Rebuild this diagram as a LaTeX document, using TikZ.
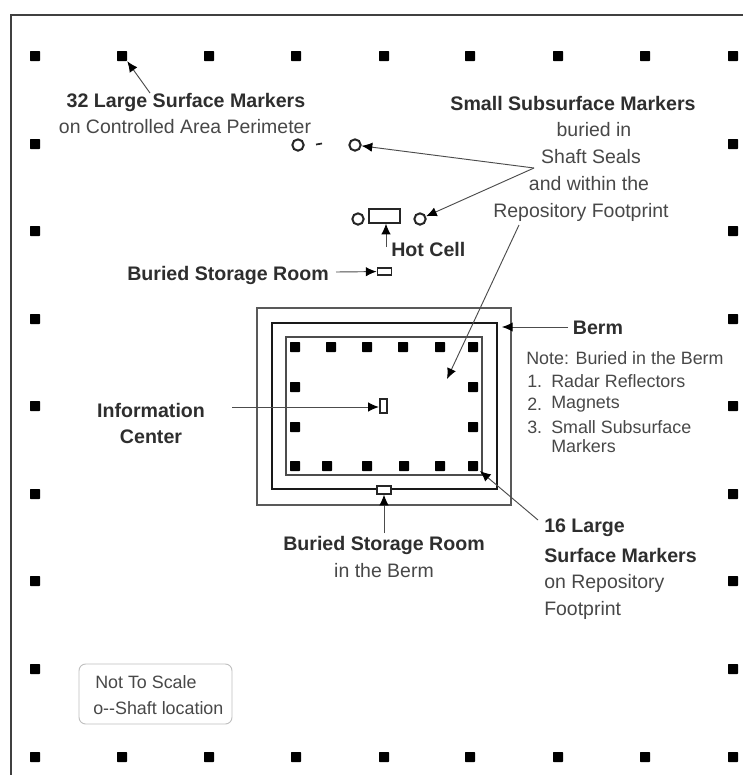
\documentclass[tikz,border=0pt]{standalone}
\usepackage{fontspec}
\setmainfont{Liberation Sans}
\usetikzlibrary{arrows.meta}
\definecolor{boldtxt}{HTML}{2E2E2E}
\definecolor{regtxt}{HTML}{484848}
\tikzset{
  x=0.75pt,y=-0.75pt,
  marker/.style={fill=black,draw=none,minimum size=7.5pt,inner sep=0pt,rectangle,rounded corners=0.4pt},
  shaft/.style={circle,draw=black!85,line width=1.5pt,fill=white,minimum size=8.5pt,inner sep=0pt},
  room/.style={rectangle,draw=black!85,line width=1.4pt,fill=white,inner sep=0pt},
  head/.style={font=\fontsize{14.7}{17}\selectfont\bfseries,text=boldtxt,inner sep=0pt},
  body/.style={font=\fontsize{14.6}{17}\selectfont,text=regtxt,inner sep=0pt},
  small/.style={font=\fontsize{13.4}{15}\selectfont,text=regtxt,inner sep=0pt},
  leader/.style={draw=black!70,line width=0.7pt,-{Latex[length=8pt,width=7pt,black]}},
}
\begin{document}
\begin{tikzpicture}
\useasboundingbox (0,0) rectangle (743,775);
\fill[white] (0,0) rectangle (743,775);
% outer frame
\draw[draw=black!75,line width=1.5pt] (11,775) -- (11,15) -- (743,15);
% perimeter markers
\foreach \x [count=\i] in {35,122,209,296,384,470,558,645,733}{
  \node[marker] (pt\i) at (\x,56) {};
  \node[marker] (pb\i) at (\x,757) {};
}
\foreach \y [count=\i] in {144,231,319,406,494,581,669}{
  \node[marker] (pl\i) at (35,\y) {};
  \node[marker] (pr\i) at (733,\y) {};
}
% berm and footprint
\draw[draw=black!65,line width=1pt] (257,308) rectangle (511,505);
\draw[draw=black!90,line width=1.8pt] (272,323) rectangle (497,489);
\draw[draw=black!70,line width=1.2pt] (286,337) rectangle (482,475);
\foreach \x [count=\i] in {295,331,367,403,440,473}{
  \node[marker] (ft\i) at (\x,347) {};
}
\foreach \x [count=\i] in {295,327,367,404,440,473}{
  \node[marker] (fb\i) at (\x,466) {};
}
\foreach \y [count=\i] in {387,427}{
  \node[marker] (fl\i) at (295,\y) {};
  \node[marker] (fr\i) at (473,\y) {};
}
% shafts and rooms
\node[shaft] (s1) at (298,145) {};
\node[shaft] (s2) at (355,145) {};
\node[shaft] (s3) at (358,219) {};
\node[shaft] (s4) at (420,219) {};
\draw[line width=1.3pt,black!85] (316,144.5) -- (322,143.5);
\node[room,minimum width=23pt,minimum height=10pt] (hot) at (384.5,216) {};
\node[room,minimum width=10.5pt,minimum height=5pt] (bsr) at (384.5,271.5) {};
\node[room,minimum width=5.5pt,minimum height=10pt] (info) at (383.5,406) {};
\node[room,minimum width=11pt,minimum height=5.5pt] (bsb) at (384,490) {};
% labels
\node[head] (l32) at (186,102) {32 Large Surface Markers};
\node[body] (l32b) at (185,127) {on Controlled Area Perimeter};
\node[head] (lss) at (573,103) {Small Subsurface Markers};
\node[body] (lss1) at (594,130) {buried in};
\node[body] (lss2) at (591,157) {Shaft Seals};
\node[body] (lss3) at (589,184) {and within the};
\node[body] (lss4) at (581,212) {Repository Footprint};
\node[head,anchor=west] (lhot) at (391,249) {Hot Cell};
\node[head,anchor=west] (lbsr) at (127,275) {Buried Storage Room};
\node[head] (lberm) at (598,328) {Berm};
\node[small,anchor=west] (n0) at (526,358) {Note: Buried in the Berm};
\node[small,anchor=west] (n1) at (527,381) {1.};
\node[small,anchor=west] (n1t) at (551,381) {Radar Reflectors};
\node[small,anchor=west] (n2) at (527,404) {2.};
\node[small,anchor=west] (n2t) at (551,404) {Magnets};
\node[small,anchor=west] (n3) at (527,427) {3.};
\node[small,anchor=west] (n3t) at (551,427) {Small Subsurface};
\node[small,anchor=west] (n3u) at (551,446) {Markers};
\node[head] (linfo) at (151,410) {Information};
\node[head] (linfo2) at (151,437) {Center};
\node[head] (lbsb) at (384,545) {Buried Storage Room};
\node[body] (lbsb2) at (384,571) {in the Berm};
\node[head,anchor=west] (l16) at (544,528) {16 Large};
\node[head,anchor=west] (l16a) at (544,555) {Surface Markers};
\node[body,anchor=west] (l16b) at (544,583) {on Repository};
\node[body,anchor=west] (l16c) at (544,610) {Footprint};
% legend
\node[draw=black!25,line width=0.7pt,rounded corners=5pt,minimum width=114.75pt,minimum height=45pt,inner sep=0pt] (legend) at (155.5,694) {};
\node[small,anchor=west] (lg1) at (95,682) {Not To Scale};
\node[small,anchor=west] (lg2) at (93,708) {o{-}{-}Shaft location};
% free ends
\coordinate (a32) at (150,93);
\coordinate (j1) at (534,168);
\coordinate (j2) at (519,225);
\coordinate (t2) at (447,379);
\coordinate (b1) at (336,272);
\coordinate (hc) at (386,247);
\coordinate (bm) at (568,327);
\coordinate (bt) at (502,327);
\coordinate (i1) at (232,407);
\coordinate (sb) at (384,533);
\coordinate (m16) at (538,520);
\coordinate (t16) at (480,471);
% connectors
\draw[leader] (a32) -- (pt2.south east);
\draw[leader] (j1) -- (s2);
\draw[leader] (j1) -- (s4);
\draw[leader] (j2) -- (t2);
\draw[leader] (b1) -- (bsr);
\draw[leader] (hc) -- (hc|-hot.south);
\draw[leader] (bm) -- (bt);
\draw[leader] (i1) -- (i1-|info.west);
\draw[leader] (sb) -- (bsb);
\draw[leader] (m16) -- (t16);
\end{tikzpicture}
\end{document}
